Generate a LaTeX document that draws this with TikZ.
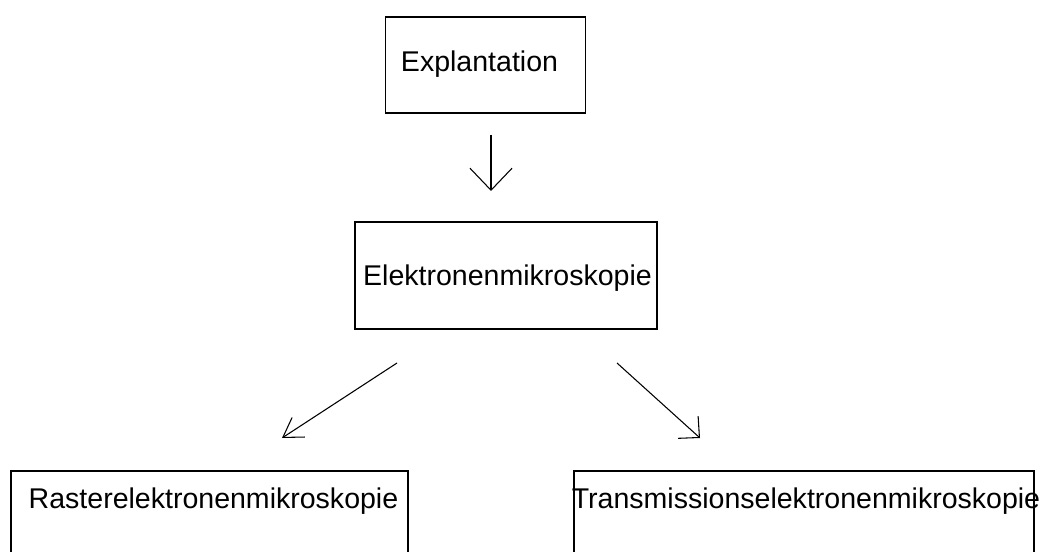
\documentclass[tikz,border=0pt]{standalone}
\usepackage{fontspec}
\setmainfont{Liberation Sans}
\usetikzlibrary{arrows.meta}
\begin{document}
\begin{tikzpicture}[x=0.75pt,y=-0.75pt,
  box/.style={draw,line width=0.9pt,rectangle,inner sep=0pt},
  lbl/.style={anchor=base,inner sep=0pt,font=\fontsize{21.4pt}{25pt}\selectfont},
  conn/.style={line width=0.8pt}]
\path[use as bounding box] (0,0) rectangle (1045,552);
\clip (0,0) rectangle (1045,552);
% boxes
\node[box,minimum width=199.5pt*0.75/0.75*0.75,minimum height=96*0.75pt] (b1) at (485.5,65) {};
\node[box,minimum width=302*0.75pt,minimum height=107*0.75pt] (b2) at (506,275.5) {};
\node[box,minimum width=397*0.75pt,minimum height=120*0.75pt] (b3) at (209.5,531) {};
\node[box,minimum width=460*0.75pt,minimum height=120*0.75pt] (b4) at (804,531) {};
% labels
\node[lbl] (t1) at (479.5,72) {Explantation};
\node[lbl] (t2) at (507.5,286) {Elektronenmikroskopie};
\node[lbl] (t3) at (213.5,508) {Rasterelektronenmikroskopie};
\node[lbl] (t4) at (806,508) {Transmissionselektronenmikroskopie};
% connector ends
\coordinate (a1s) at (491,135);
\coordinate (a1e) at (491,191);
\coordinate (a2s) at (397,363);
\coordinate (a2e) at (282,438);
\coordinate (a3s) at (617,363);
\coordinate (a3e) at (700,438);
\draw[conn,-{Straight Barb[length=16.5pt,width=31.5pt,line width=0.8pt]}] (a1s) -- (a1e);
\draw[conn,-{Straight Barb[length=14pt,width=17.5pt,line width=0.8pt]}] (a2s) -- (a2e);
\draw[conn,-{Straight Barb[length=11.5pt,width=22.5pt,line width=0.8pt]}] (a3s) -- (a3e);
\end{tikzpicture}
\end{document}
